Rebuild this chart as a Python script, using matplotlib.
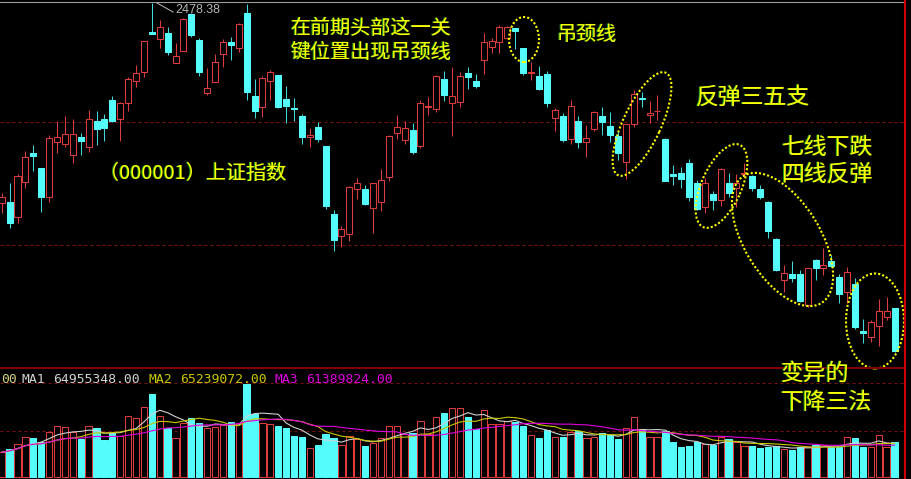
import matplotlib
matplotlib.use('Agg')
import matplotlib.pyplot as plt
from matplotlib.patches import Rectangle, Ellipse
from matplotlib.lines import Line2D
from matplotlib.transforms import IdentityTransform, offset_copy
import numpy as np
import pandas as pd

# Shanghai Composite (000001) daily candles, index points
opens = [2287.9, 2288.9, 2274.6, 2307.9, 2335.5, 2321.3, 2293.7, 2346.0, 2344.1, 2333.6,
         2350.8, 2341.3, 2366.0, 2367.9, 2386.0, 2367.9, 2383.1, 2404.1, 2412.7, 2450.3,
         2444.1, 2449.8, 2421.2, 2432.6, 2467.9, 2443.1, 2392.7, 2403.1, 2429.8, 2441.2,
         2435.5, 2468.8, 2389.8, 2379.3, 2404.1, 2409.8, 2387.0, 2378.4, 2370.8, 2350.8,
         2360.3, 2342.2, 2277.5, 2256.5, 2258.4, 2301.3, 2301.3, 2283.2, 2288.9, 2312.7,
         2354.6, 2347.9, 2357.4, 2342.2, 2379.3, 2377.4, 2406.0, 2383.1, 2384.1, 2411.7,
         2404.1, 2424.1, 2436.5, 2441.2, 2445.0, 2454.3, 2435.2, 2412.0, 2408.8, 2410.5,
         2369.1, 2371.1, 2348.6, 2366.3, 2345.7, 2358.1, 2371.1, 2361.2, 2352.0, 2327.3,
         2362.9, 2388.2, 2371.7, 2375.2, 2348.6, 2315.3, 2316.8, 2326.0, 2306.7, 2283.9,
         2296.2, 2290.8, 2307.3, 2301.9, 2315.6, 2313.9, 2301.3, 2289.2, 2253.7, 2214.6,
         2220.1, 2220.1, 2190.8, 2233.7, 2226.3, 2232.7, 2217.8, 2203.5, 2210.5, 2166.1,
         2160.1, 2171.1, 2179.7, 2187.7]
highs = [2297.5, 2307.0, 2315.6, 2337.4, 2343.2, 2321.3, 2352.7, 2366.0, 2370.8, 2367.9,
         2354.6, 2376.5, 2375.5, 2372.7, 2389.8, 2384.1, 2407.9, 2419.3, 2442.2, 2478.38,
         2462.2, 2455.5, 2440.3, 2464.1, 2468.8, 2445.0, 2416.5, 2429.8, 2444.1, 2446.0,
         2459.3, 2477.0, 2406.0, 2408.8, 2414.6, 2409.8, 2399.3, 2387.9, 2372.7, 2359.3,
         2365.1, 2342.2, 2281.3, 2266.0, 2304.1, 2311.7, 2305.1, 2307.0, 2320.3, 2352.7,
         2371.7, 2366.0, 2364.1, 2386.0, 2388.9, 2409.8, 2413.6, 2417.4, 2412.7, 2417.4,
         2410.8, 2449.8, 2445.0, 2457.4, 2456.4, 2454.5, 2435.2, 2422.5, 2418.7, 2413.6,
         2378.1, 2373.3, 2386.0, 2371.1, 2362.2, 2375.8, 2379.6, 2374.9, 2356.5, 2362.9,
         2395.5, 2393.9, 2385.0, 2390.8, 2349.5, 2324.1, 2322.7, 2329.5, 2309.8, 2311.5,
         2299.4, 2321.0, 2316.2, 2315.3, 2326.3, 2314.6, 2305.1, 2289.8, 2254.3, 2228.9,
         2232.7, 2224.2, 2226.3, 2234.6, 2244.8, 2238.4, 2220.4, 2227.3, 2216.3, 2177.2,
         2176.6, 2196.6, 2198.7, 2187.7]
lows = [2278.4, 2264.1, 2268.9, 2302.2, 2318.4, 2279.4, 2288.9, 2335.5, 2341.3, 2326.0,
        2333.6, 2336.5, 2343.2, 2347.0, 2365.1, 2347.0, 2375.5, 2398.4, 2407.9, 2448.4,
        2435.5, 2428.8, 2421.2, 2432.6, 2446.0, 2408.8, 2390.8, 2403.1, 2417.4, 2424.1,
        2431.7, 2386.0, 2368.9, 2369.8, 2386.0, 2378.4, 2364.1, 2366.0, 2344.1, 2341.3,
        2346.0, 2282.2, 2242.2, 2246.1, 2251.8, 2291.8, 2286.0, 2259.4, 2280.3, 2308.9,
        2348.9, 2344.1, 2334.6, 2340.3, 2371.7, 2374.6, 2385.0, 2351.7, 2379.3, 2396.5,
        2397.4, 2410.8, 2430.7, 2430.7, 2444.1, 2434.3, 2409.8, 2405.0, 2395.5, 2379.6,
        2356.5, 2345.7, 2344.1, 2340.0, 2332.0, 2356.8, 2352.7, 2346.3, 2328.9, 2310.5,
        2360.6, 2379.6, 2364.4, 2367.0, 2309.2, 2305.1, 2302.2, 2289.8, 2281.3, 2278.7,
        2281.3, 2285.1, 2293.9, 2283.9, 2313.0, 2299.4, 2291.8, 2254.3, 2223.5, 2203.5,
        2213.0, 2194.0, 2188.7, 2214.6, 2219.4, 2227.3, 2192.5, 2192.5, 2167.7, 2154.9,
        2155.3, 2152.1, 2176.6, 2146.4]
closes = [2293.7, 2268.9, 2313.6, 2331.7, 2332.7, 2293.7, 2349.8, 2350.8, 2353.6, 2353.6,
          2347.0, 2367.9, 2358.4, 2359.3, 2366.0, 2383.1, 2406.0, 2411.7, 2442.2, 2448.8,
          2455.5, 2431.7, 2427.9, 2463.1, 2447.9, 2412.7, 2397.4, 2422.2, 2441.2, 2438.4,
          2458.4, 2393.6, 2375.5, 2406.9, 2412.7, 2379.3, 2380.3, 2377.4, 2350.8, 2352.7,
          2348.9, 2285.1, 2252.7, 2263.2, 2303.2, 2307.0, 2287.0, 2307.0, 2309.8, 2351.7,
          2360.3, 2359.3, 2336.5, 2383.1, 2380.3, 2408.8, 2390.8, 2389.8, 2408.8, 2407.9,
          2399.3, 2441.2, 2442.2, 2455.5, 2455.2, 2452.0, 2411.4, 2412.9, 2396.5, 2383.4,
          2376.5, 2347.9, 2380.3, 2346.3, 2349.5, 2374.9, 2365.3, 2352.7, 2335.3, 2362.9,
          2391.4, 2386.7, 2373.9, 2375.8, 2309.2, 2313.6, 2310.5, 2293.7, 2282.2, 2306.7,
          2290.8, 2320.0, 2297.2, 2307.3, 2316.8, 2301.9, 2293.9, 2261.6, 2224.2, 2221.6,
          2216.8, 2194.9, 2225.8, 2225.8, 2228.9, 2228.3, 2201.0, 2222.5, 2170.2, 2163.9,
          2174.9, 2185.1, 2185.1, 2147.3]
# volume, millions of lots
volumes = [47.9, 53.7, 63.4, 78.2, 75.1, 68.5, 86.7, 98.9, 96.4, 86.7,
           73.7, 98.9, 95.1, 71.8, 85.9, 79.5, 118.9, 113.9, 135.8, 160.4,
           118.9, 94.5, 75.1, 104.2, 113.9, 104.2, 95.1, 96.4, 100.3, 107.3,
           105.3, 180.4, 122.2, 104.2, 102.2, 99.5, 95.6, 80.1, 77.0, 55.7,
           62.1, 83.4, 75.1, 62.1, 79.5, 73.1, 60.1, 66.5, 75.1, 98.9,
           98.9, 83.4, 85.9, 109.2, 83.4, 115.8, 124.7, 134.4, 133.3, 115.8,
           93.1, 130.0, 102.8, 102.2, 108.6, 106.1, 99.5, 82.1, 76.2, 91.2,
           78.2, 77.0, 87.9, 89.8, 76.2, 77.0, 85.9, 81.5, 74.3, 95.6,
           117.0, 92.5, 78.2, 77.0, 89.8, 67.3, 58.8, 60.1, 68.5, 63.4,
           62.1, 77.0, 73.1, 68.5, 60.1, 60.7, 55.7, 58.8, 60.1, 53.7,
           52.4, 57.6, 58.8, 62.1, 62.1, 57.6, 58.8, 77.0, 75.1, 58.8,
           57.6, 81.5, 57.6, 68.5]
ma_windows = [5, 10, 20]
ma_labels = ['MA1', 'MA2', 'MA3']
ma_texts = ['64955348.00', '65239072.00', '61389824.00']
price_grid = [2365.1, 2248.0]
vol_grid = [182.4, 89.2]

RED = '#dc3c3c'
CYAN = '#54fcfc'
CYAN_W = '#40d8d8'
GRID = '#7a1010'
YEL = '#ffff00'
MA_COLORS = ['#d0d0d0', '#c8c800', '#e000e0']
CJK = ['Noto Sans CJK SC', 'DejaVu Sans']

W, H = 911, 479
fig = plt.figure(figsize=(W / 100, H / 100), dpi=100, facecolor='black')
ax = fig.add_axes([0, 111 / H, 904 / W, 368 / H])
axv = fig.add_axes([0, 0, 904 / W, 111 / H], sharex=ax)
ax.axis('off')
axv.axis('off')

x = np.arange(len(opens))
bw = 0.76
up = [c >= o for o, c in zip(opens, closes)]

for i in x:
    o, h, l, c = opens[i], highs[i], lows[i], closes[i]
    if up[i]:
        ax.vlines(i, c, h, color=RED, lw=0.75)
        ax.vlines(i, l, o, color=RED, lw=0.75)
        ax.add_patch(Rectangle((i - bw / 2, o), bw, max(c - o, 0.6),
                               facecolor='black', edgecolor=RED, lw=0.75, zorder=3))
    else:
        ax.vlines(i, l, h, color=CYAN_W, lw=0.75)
        ax.add_patch(Rectangle((i - bw / 2, c), bw, max(o - c, 0.6),
                               facecolor=CYAN, edgecolor=CYAN, lw=0.75, zorder=3))

for g in price_grid:
    ax.axhline(g, color=GRID, lw=0.72, ls=(0, (3, 3)), zorder=0)
ax.set_xlim(-0.215, 114.2)
ax.set_ylim(2130.9, 2481.2)

# volume pane
axv.bar(x, volumes, width=0.8,
        facecolor=['black' if u else CYAN for u in up],
        edgecolor=[RED if u else CYAN for u in up], linewidth=0.75, zorder=2)
vs = pd.Series(volumes)
for win, col in zip(ma_windows, MA_COLORS):
    axv.plot(x, vs.rolling(win, min_periods=1).mean(), color=col, lw=0.8, zorder=3)
for g in vol_grid:
    axv.axhline(g, color=GRID, lw=0.72, ls=(0, (3, 3)), zorder=0)
axv.set_ylim(-3.9, 211.5)


def fx(px):
    return px / W


def fy(py):
    return 1 - py / H


# frame lines
fig.add_artist(Line2D([0, fx(903)], [fy(1.5)] * 2, color='#a0a0a0', lw=0.75))
fig.add_artist(Line2D([0, fx(904)], [fy(368)] * 2, color='#800000', lw=1.5))
fig.add_artist(Line2D([fx(904.5)] * 2, [0, 1], color='#d00000', lw=1.5))

# high label
fig.add_artist(Line2D([fx(157), fx(173)], [fy(3), fy(12)], color='#b4b4b4', lw=0.75))
fig.text(fx(175), fy(13.3), '2478.38', color='#b4b4b4', fontsize=9,
         family='Liberation Sans', va='baseline', ha='left')

# volume MA header
mono = dict(family='DejaVu Sans Mono', fontsize=9.45, va='baseline', ha='left')
cw = 7.9
fig.text(fx(1), fy(382.7), '00', color='#d0d080', **mono)
for k, (lab, val, col) in enumerate(zip(ma_labels, ma_texts, MA_COLORS)):
    x0 = 21.7 + k * 16 * cw
    fig.text(fx(x0), fy(382.7), lab, color=col, **mono)
    fig.text(fx(x0 + 4 * cw), fy(382.7), val, color=col, **mono)


def note(px, py, s, size):
    sh = offset_copy(fig.transFigure, fig=fig, x=-1, y=0, units='dots')
    fig.text(fx(px), fy(py), s, color='#20a020', fontsize=size, family=CJK,
             va='center', ha='left', transform=sh)
    fig.text(fx(px), fy(py), s, color=YEL, fontsize=size, family=CJK,
             va='center', ha='left')


note(99, 173, '（000001）上证指数', 14.5)
note(290.5, 28, '在前期头部这一关', 14.5)
note(290.5, 52, '键位置出现吊颈线', 14.5)
note(557, 35, '吊颈线', 14.5)
note(695.5, 96.7, '反弹三五支', 16.5)
note(781.5, 147, '七线下跌', 16.5)
note(781.5, 174.5, '四线反弹', 16.5)
note(780.5, 373.7, '变异的', 16.5)
note(780.5, 402.3, '下降三法', 16.5)

# dotted ellipses (pixel centre, width, height, angle)
ellipses = [(524, 39.5, 30, 45, 0), (642, 124, 113, 38, 65), (721.5, 186, 90, 40, 66),
            (782.5, 239.5, 149, 76, -58.6), (875, 321, 58, 95, 0)]
for cx, cy, ew, eh, ang in ellipses:
    fig.add_artist(Ellipse((cx, H - cy), ew, eh, angle=ang, transform=IdentityTransform(),
                           fill=False, edgecolor=YEL, lw=1.5, ls=(0, (1, 1))))

fig.savefig('out.png', dpi=100, facecolor='black')
